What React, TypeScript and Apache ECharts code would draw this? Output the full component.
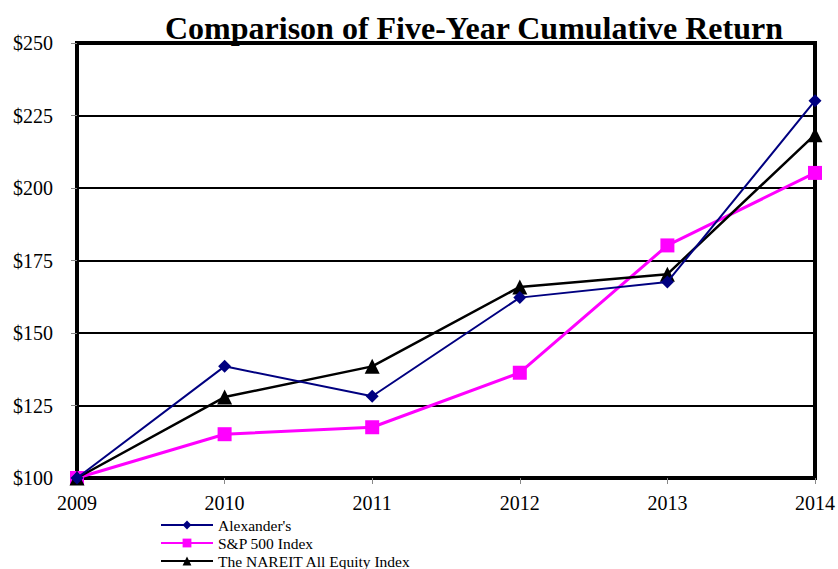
import React, { useEffect, useRef } from "react";
import * as echarts from "echarts";

const years = ["2009", "2010", "2011", "2012", "2013", "2014"];
const alexanders = [100, 138.5, 128.2, 162.2, 167.6, 230.1];
const sp500 = [100, 115.1, 117.5, 136.3, 180.2, 205.2];
const nareit = [100, 127.9, 138.5, 165.9, 170.3, 218.4];
const seriesNames = ["Alexander's", "S&P 500 Index", "The NAREIT All Equity Index"];

const serif = "'Liberation Serif', 'Times New Roman', serif";

export default function App() {
  const ref = useRef<HTMLDivElement>(null);
  useEffect(() => {
    if (!ref.current) return;
    const chart = echarts.init(ref.current, null, { renderer: "svg" });
    const legendTops = [517, 535, 553];
    chart.setOption({
      animation: false,
      backgroundColor: "#ffffff",
      title: {
        text: "Comparison of Five-Year Cumulative Return",
        left: 469,
        textAlign: "center",
        top: 7,
        textStyle: { fontFamily: serif, fontSize: 32, fontWeight: "bold", color: "#000" },
      },
      legend: seriesNames.map((n, i) => ({
        orient: "vertical",
        left: 160,
        top: legendTops[i],
        itemWidth: 52,
        itemHeight: 11,
        itemGap: 0,
        padding: 0,
        textStyle: { fontFamily: serif, fontSize: 15.5, color: "#000", padding: [0, 0, 0, 0] },
        data: [n],
      })),
      grid: {
        left: 77,
        right: 23,
        top: 43,
        bottom: 91,
        show: true,
        borderColor: "#000",
        borderWidth: 4,
        backgroundColor: "#fff",
      },
      xAxis: {
        type: "category",
        data: years,
        boundaryGap: false,
        axisLine: { lineStyle: { color: "#000", width: 4 } },
        axisTick: { show: true, alignWithLabel: true, length: 6, lineStyle: { color: "#888", width: 1 } },
        axisLabel: { fontFamily: serif, fontSize: 20, color: "#000", margin: 15 },
      },
      yAxis: {
        type: "value",
        min: 100,
        max: 250,
        interval: 25,
        axisLine: { show: true, lineStyle: { color: "#000", width: 4 } },
        axisTick: { show: true, length: 6, lineStyle: { color: "#888", width: 1 } },
        axisLabel: {
          fontFamily: serif,
          fontSize: 20,
          color: "#000",
          margin: 24,
          formatter: (v: number) => "$" + v,
        },
        splitLine: { show: true, lineStyle: { color: "#000", width: 2 } },
      },
      series: [
        {
          name: seriesNames[0],
          type: "line",
          data: alexanders,
          symbol: "diamond",
          symbolSize: 13,
          itemStyle: { color: "#000080" },
          lineStyle: { color: "#000080", width: 2 },
          z: 4,
        },
        {
          name: seriesNames[1],
          type: "line",
          data: sp500,
          symbol: "rect",
          symbolSize: 14,
          itemStyle: { color: "#ff00ff" },
          lineStyle: { color: "#ff00ff", width: 3 },
          z: 2,
        },
        {
          name: seriesNames[2],
          type: "line",
          data: nareit,
          symbol: "triangle",
          symbolSize: 15,
          itemStyle: { color: "#000" },
          lineStyle: { color: "#000", width: 2.5 },
          z: 3,
        },
      ],
    });
    return () => chart.dispose();
  }, []);
  return <div ref={ref} style={{ width: 838, height: 569, position: "absolute", left: 0, top: 0 }} />;
}
